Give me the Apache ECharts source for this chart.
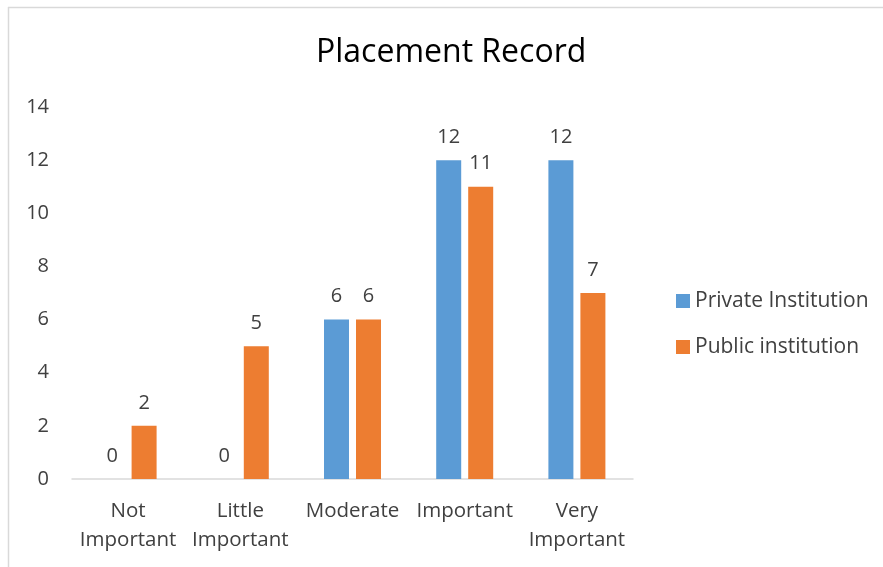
<!DOCTYPE html>
<html>
<head>
<meta charset="utf-8">
<script src="https://cdn.jsdelivr.net/npm/echarts@6/dist/echarts.min.js"></script>
<style>html,body{margin:0;padding:0;background:#fff;}#c{width:883px;height:567px;}</style>
</head>
<body>
<div id="c"></div>
<script>
const categories = ['Not\nImportant', 'Little\nImportant', 'Moderate', 'Important', 'Very\nImportant'];
const privateValues = [0, 0, 6, 12, 12];
const publicValues = [2, 5, 6, 11, 7];
const seriesNames = ['Private Institution', 'Public institution'];
const titleText = 'Placement Record';

const FONT = 'Open Sans';
const chart = echarts.init(document.getElementById('c'), null, {renderer: 'canvas'});
const labelStyle = {show: true, position: 'top', distance: 13, color: '#404040', fontSize: 20, fontFamily: FONT};
chart.setOption({
  animation: false,
  backgroundColor: '#fff',
  title: {
    text: titleText, left: 311, top: 32, itemGap: 0,
    textStyle: {fontFamily: FONT, fontSize: 32, fontWeight: 'normal', color: '#000'}
  },
  legend: {
    orient: 'vertical', left: 671, top: 285,
    itemWidth: 14, itemHeight: 14, itemGap: 24, icon: 'rect',
    textStyle: {fontFamily: FONT, fontSize: 21, color: '#404040', lineHeight: 22},
    data: seriesNames
  },
  grid: {left: 72, right: 250, top: 107, bottom: 88},
  xAxis: {
    type: 'category', data: categories,
    axisLine: {lineStyle: {color: '#d9d9d9', width: 1.5}},
    axisTick: {show: false},
    axisLabel: {color: '#404040', fontSize: 20.5, fontFamily: FONT, margin: 18, lineHeight: 29, interval: 0}
  },
  yAxis: {
    type: 'value', min: 0, max: 14, interval: 2,
    axisLine: {show: false}, axisTick: {show: false},
    splitLine: {show: false},
    axisLabel: {color: '#404040', fontSize: 20, fontFamily: FONT, margin: 23}
  },
  series: [
    {name: seriesNames[0], type: 'bar', data: privateValues, barWidth: 25, barGap: '28%',
     itemStyle: {color: '#5b9bd5'}, label: labelStyle},
    {name: seriesNames[1], type: 'bar', data: publicValues, barWidth: 25,
     itemStyle: {color: '#ed7d31'}, label: labelStyle}
  ],
  graphic: [
    {type: 'line', shape: {x1: 8, y1: 7.5, x2: 883, y2: 7.5}, style: {stroke: '#d9d9d9', lineWidth: 1.5}},
    {type: 'line', shape: {x1: 8.5, y1: 7, x2: 8.5, y2: 567}, style: {stroke: '#d9d9d9', lineWidth: 1.5}}
  ]
});
</script>
</body>
</html>
